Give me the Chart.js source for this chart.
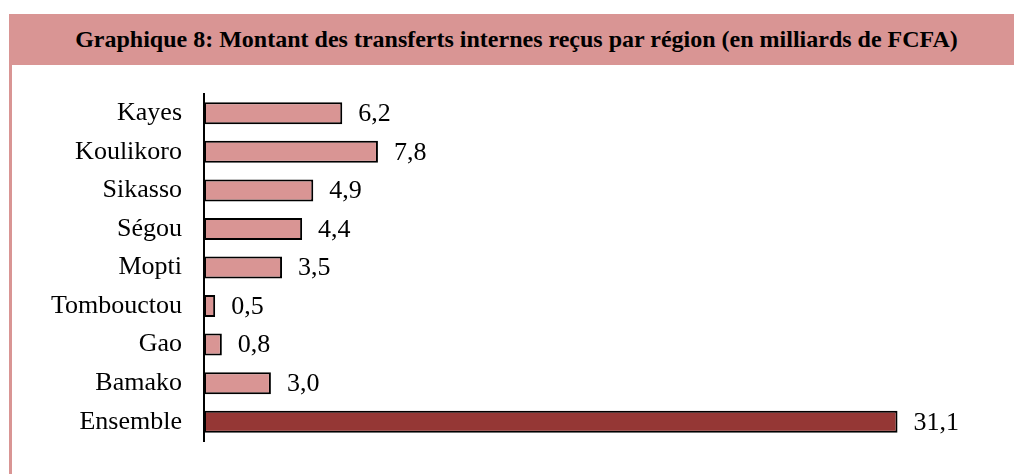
<!DOCTYPE html>
<html>
<head>
<meta charset="utf-8">
<script src="https://cdn.jsdelivr.net/npm/chart.js@4"></script>
<style>
  html, body { margin: 0; padding: 0; background: #fff; }
  body { width: 1014px; height: 474px; position: relative; overflow: hidden; }
  #band {
    position: absolute; left: 9px; top: 14px; width: 1005px; height: 51px;
    background: #D99594;
    font-family: "Liberation Serif", "Times New Roman", serif;
    font-weight: bold; font-size: 24px; color: #000;
    display: flex; align-items: center; justify-content: center;
    padding-left: 10px; box-sizing: border-box;
  }
  #strip { position: absolute; left: 9px; top: 14px; width: 3px; height: 460px; background: #D99594; }
  #wrap { position: absolute; left: 12px; top: 65px; width: 1002px; height: 409px; }
</style>
</head>
<body>
<div id="strip"></div>
<div id="band">Graphique 8: Montant des transferts internes reçus par région (en milliards de FCFA)</div>
<div id="wrap"><canvas id="chart"></canvas></div>
<script>
// régions et montants (milliards de FCFA)
const regions = ['Kayes', 'Koulikoro', 'Sikasso', 'Ségou', 'Mopti', 'Tombouctou', 'Gao', 'Bamako', 'Ensemble'];
const montants = [6.2, 7.8, 4.9, 4.4, 3.5, 0.5, 0.8, 3.0, 31.1];
const couleurs = ['#D99594', '#D99594', '#D99594', '#D99594', '#D99594', '#D99594', '#D99594', '#D99594', '#953735'];

const serif = '"Liberation Serif", "Times New Roman", serif';

// étiquettes de valeur au bout des barres
const valueLabels = {
    id: 'valueLabels',
    afterDatasetsDraw(chart) {
        const ctx = chart.ctx;
        const meta = chart.getDatasetMeta(0);
        ctx.save();
        ctx.font = '26px ' + serif;
        ctx.fillStyle = '#000';
        ctx.textAlign = 'left';
        ctx.textBaseline = 'middle';
        meta.data.forEach((bar, i) => {
            const txt = montants[i].toFixed(1).replace('.', ',');
            ctx.fillText(txt, bar.x + 16, bar.y + 1);
        });
        ctx.restore();
    }
};

new Chart(document.getElementById('chart'), {
    type: 'bar',
    data: {
        labels: regions,
        datasets: [{
            data: montants,
            backgroundColor: couleurs,
            borderColor: '#000',
            borderWidth: 2,
            borderSkipped: false,
            barPercentage: 0.57,
            categoryPercentage: 1
        }]
    },
    options: {
        indexAxis: 'y',
        responsive: true,
        maintainAspectRatio: false,
        animation: false,
        layout: { padding: { left: 0, right: 29.5, top: 29, bottom: 33 } },
        plugins: {
            legend: { display: false },
            tooltip: { enabled: false }
        },
        scales: {
            x: {
                display: false,
                min: 0,
                max: 35
            },
            y: {
                afterFit(scale) {
                    scale.width = 192;
                    scale.paddingTop = 0;
                    scale.paddingBottom = 0;
                },
                grid: { display: false, drawTicks: false },
                border: { display: true, color: '#000', width: 2 },
                ticks: {
                    padding: 22,
                    color: '#000',
                    font: { family: serif, size: 26 }
                }
            }
        }
    },
    plugins: [valueLabels]
});
</script>
</body>
</html>
